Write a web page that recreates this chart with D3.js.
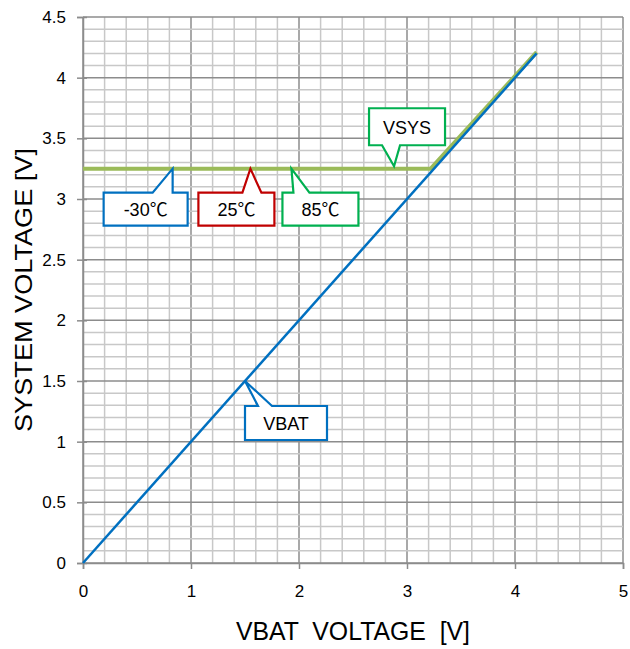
<!DOCTYPE html>
<html>
<head>
<meta charset="utf-8">
<script src="https://cdn.jsdelivr.net/npm/d3@7"></script>
<style>
  body { margin: 0; background: #fff; }
  text { font-family: "Liberation Sans", Arial, sans-serif; }
</style>
</head>
<body>
<div id="chart"></div>
<script>
// data
var vbatX = [0, 4.2];
var vbatY = [0, 4.2];
var vsysX = [0, 3.22, 4.2];
var vsysY = [3.25, 3.25, 4.21];

var xTicks = [0, 1, 2, 3, 4, 5];
var yTicks = [0, 0.5, 1, 1.5, 2, 2.5, 3, 3.5, 4, 4.5];

// callouts: label, anchor point (data), colour
var calloutLabels = ["-30℃", "25℃", "85℃", "VSYS", "VBAT"];
var calloutX = [0.83, 1.55, 1.93, 2.88, 1.5];
var calloutY = [3.25, 3.25, 3.25, 3.27, 1.5];
var calloutColors = ["#0070C0", "#C00000", "#00B050", "#00B050", "#0070C0"];

// box layout relative to the tip (pixels): box l, r, t, b and pointer base
var calloutBox = [
  {l: -69, r: 15, t: 24, b: 57, p1: -20, p2: 0},
  {l: -52, r: 24, t: 24, b: 57, p1: -8, p2: 11},
  {l: -9, r: 67, t: 24, b: 57, p1: 2, p2: 18},
  {l: -25, r: 51, t: -58, b: -21, p1: -12, p2: 6},
  {l: 0, r: 82, t: 25, b: 59, p1: 13, p2: 27}
];

var width = 630, height = 649;
var margin = {left: 83, right: 7, top: 17, bottom: 86};

var svg = d3.select("#chart").append("svg")
  .attr("width", width)
  .attr("height", height);

var x = d3.scaleLinear().domain([0, 5]).range([margin.left, width - margin.right]);
var y = d3.scaleLinear().domain([0, 4.5]).range([height - margin.bottom, margin.top]);

// grid
var g = svg.append("g");
g.selectAll(".vminor").data(d3.range(0, 5.001, 0.2).map(function(d) { return +d.toFixed(1); }))
  .enter().append("line")
  .attr("x1", function(d) { return x(d); }).attr("x2", function(d) { return x(d); })
  .attr("y1", y(0)).attr("y2", y(4.5))
  .attr("stroke", function(d) { return Number.isInteger(d) ? "#8c8c8c" : "#c8c8c8"; })
  .attr("stroke-width", 1.5);

g.selectAll(".hminor").data(d3.range(0, 4.501, 0.1).map(function(d) { return +d.toFixed(1); }))
  .enter().append("line")
  .attr("x1", x(0)).attr("x2", x(5))
  .attr("y1", function(d) { return y(d); }).attr("y2", function(d) { return y(d); })
  .attr("stroke", function(d) { return (Math.round(d * 10) % 5 == 0) ? "#8c8c8c" : "#c8c8c8"; })
  .attr("stroke-width", 1.5);

// axes
var bottomAxis = d3.axisBottom(x).tickValues(xTicks).tickSize(6).tickPadding(16).tickFormat(d3.format("d"));
var leftAxis = d3.axisLeft(y).tickValues(yTicks).tickSize(6).tickPadding(11).tickFormat(function(d) { return d; });

var xa = svg.append("g").attr("transform", "translate(0," + y(0) + ")").call(bottomAxis);
var ya = svg.append("g").attr("transform", "translate(" + x(0) + ",0)").call(leftAxis);
ya.selectAll(".tick line").attr("x2", 4).attr("x1", -6);
[xa, ya].forEach(function(a) {
  a.select(".domain").attr("stroke", "#8c8c8c").attr("stroke-width", 1.5);
  a.selectAll(".tick line").attr("stroke", "#8c8c8c").attr("stroke-width", 1.5);
  a.selectAll(".tick text").attr("fill", "#000").style("font-size", "17px")
    .style("font-family", "'Liberation Sans', Arial, sans-serif");
});

// lines
var line = d3.line().x(function(d) { return x(d[0]); }).y(function(d) { return y(d[1]); });

svg.append("path")
  .datum(vsysX.map(function(d, i) { return [d, vsysY[i]]; }))
  .attr("d", line).attr("fill", "none")
  .attr("stroke", "#9BBB59").attr("stroke-width", 4);

svg.append("path")
  .datum(vbatX.map(function(d, i) { return [d, vbatY[i]]; }))
  .attr("d", line).attr("fill", "none")
  .attr("stroke", "#0070C0").attr("stroke-width", 2.5);

// callouts
calloutLabels.forEach(function(lab, i) {
  var tx = x(calloutX[i]), ty = y(calloutY[i]);
  var b = calloutBox[i];
  var l = tx + b.l, r = tx + b.r, t = ty + b.t, bt = ty + b.b;
  var pts;
  if (b.t > 0) {
    pts = [[l, t], [tx + b.p1, t], [tx, ty], [tx + b.p2, t], [r, t], [r, bt], [l, bt]];
  } else {
    pts = [[l, t], [r, t], [r, bt], [tx + b.p2, bt], [tx, ty], [tx + b.p1, bt], [l, bt]];
  }
  svg.append("path")
    .attr("d", "M" + pts.join("L") + "Z")
    .attr("fill", "#fff")
    .attr("stroke", calloutColors[i])
    .attr("stroke-width", 2.2);
  svg.append("text")
    .attr("x", (l + r) / 2)
    .attr("y", (t + bt) / 2 + 7)
    .attr("text-anchor", "middle")
    .style("font-size", "18px")
    .style("font-family", "'Liberation Sans', 'Noto Sans CJK JP', sans-serif")
    .text(lab);
});

// axis titles
svg.append("text")
  .attr("x", 236)
  .attr("y", 640)
  .style("font-size", "26px")
  .attr("textLength", 234)
  .attr("lengthAdjust", "spacingAndGlyphs")
  .attr("xml:space", "preserve")
  .text("VBAT  VOLTAGE  [V]");

svg.append("text")
  .attr("transform", "translate(32,432) rotate(-90)")
  .style("font-size", "24px")
  .attr("textLength", 284)
  .attr("lengthAdjust", "spacingAndGlyphs")
  .text("SYSTEM VOLTAGE [V]");
</script>
</body>
</html>
